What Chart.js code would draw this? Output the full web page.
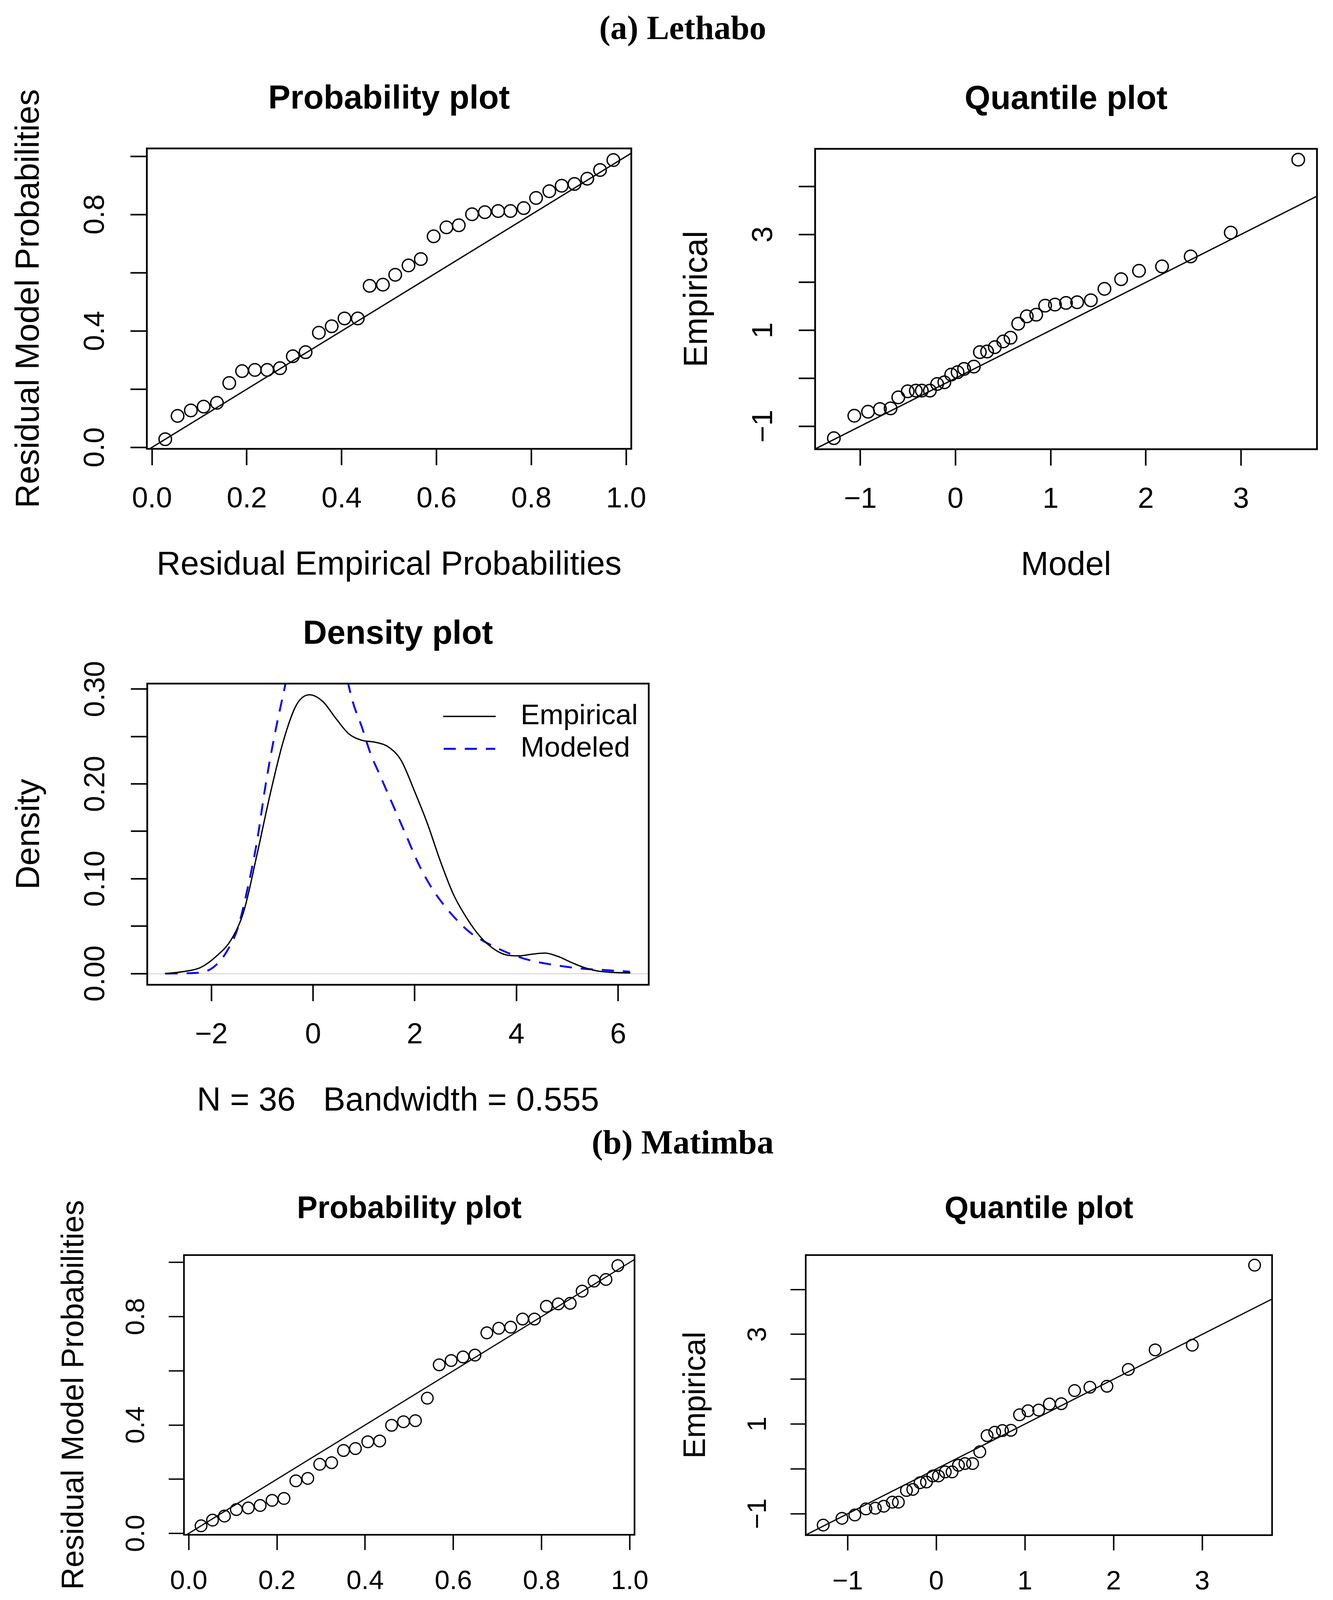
<!DOCTYPE html>
<html lang="en">

<head>
  <meta charset="UTF-8" />
  <title>Residual diagnostics | Lethabo and Matimba</title>
  <script src="https://cdn.jsdelivr.net/npm/chart.js@4"></script>
  <style>
    html, body { margin: 0; padding: 0; overflow: hidden; background: #fff; }
    body { position: relative; width: 3413px; height: 5551px; }
    canvas { position: absolute; }
    .cabecalho {
      position: absolute; left: 748px; width: 2000px; text-align: center;
      font: bold 86px "Liberation Serif", "Times New Roman", serif; line-height: 86px; color: #000;
    }
  </style>
</head>

<body>
  <div class="cabecalho" style="top: 28px;">(a) Lethabo</div>
  <canvas id="probA"></canvas>
  <canvas id="quantA"></canvas>
  <canvas id="densA"></canvas>

  <div class="cabecalho" style="top: 2881px;">(b) Matimba</div>
  <canvas id="probB"></canvas>
  <canvas id="quantB"></canvas>
  <canvas id="densB"></canvas>
</body>

</html>

<script>
  // ---------- dados ----------

  // (a) Lethabo - probability plot
  const lethaboProbEmp = [0.028, 0.054, 0.082, 0.109, 0.137, 0.163, 0.190, 0.217, 0.243, 0.270, 0.297, 0.324,
    0.352, 0.379, 0.406, 0.434, 0.459, 0.487, 0.513, 0.541, 0.567, 0.594, 0.621, 0.647,
    0.675, 0.702, 0.730, 0.756, 0.784, 0.810, 0.838, 0.864, 0.891, 0.918, 0.945, 0.973];
  const lethaboProbMod = [0.028, 0.108, 0.127, 0.140, 0.153, 0.221, 0.262, 0.266, 0.266, 0.272, 0.313, 0.327,
    0.394, 0.416, 0.443, 0.443, 0.555, 0.559, 0.593, 0.625, 0.647, 0.725, 0.756, 0.763,
    0.801, 0.808, 0.812, 0.812, 0.822, 0.857, 0.880, 0.899, 0.905, 0.923, 0.953, 0.987];

  // (a) Lethabo - quantile plot
  const lethaboQuantMod = [-1.278, -1.063, -0.919, -0.794, -0.682, -0.601, -0.502, -0.417, -0.354, -0.269, -0.193, -0.117,
    -0.045, 0.022, 0.090, 0.193, 0.256, 0.332, 0.413, 0.502, 0.578, 0.659, 0.749, 0.848,
    0.942, 1.045, 1.161, 1.278, 1.422, 1.565, 1.740, 1.928, 2.170, 2.471, 2.892, 3.601];
  const lethaboQuantEmp = [-1.250, -0.782, -0.698, -0.642, -0.628, -0.398, -0.272, -0.258, -0.258, -0.258, -0.119, -0.084,
    0.077, 0.126, 0.195, 0.244, 0.545, 0.558, 0.649, 0.768, 0.845, 1.138, 1.291, 1.326,
    1.515, 1.536, 1.571, 1.585, 1.627, 1.864, 2.066, 2.241, 2.332, 2.541, 3.037, 4.559];

  // (a) Lethabo - density plot
  const lethaboDensEmpX = [-2.90, -2.56, -2.21, -1.87, -1.61, -1.36, -1.10, -0.84, -0.58, -0.33, -0.07, 0.19,
    0.45, 0.70, 0.96, 1.22, 1.48, 1.73, 1.99, 2.25, 2.50, 2.76, 3.02, 3.28,
    3.53, 3.79, 4.05, 4.31, 4.56, 4.82, 5.08, 5.33, 5.59, 5.85, 6.23];
  const lethaboDensEmpY = [0.0000, 0.0020, 0.0064, 0.0198, 0.0357, 0.0660, 0.1260, 0.1900, 0.2460, 0.2830, 0.2940, 0.2870,
    0.2690, 0.2530, 0.2460, 0.2440, 0.2390, 0.2250, 0.1930, 0.1580, 0.1190, 0.0835, 0.0587, 0.0393,
    0.0269, 0.0198, 0.0187, 0.0205, 0.0216, 0.0180, 0.0117, 0.0064, 0.0028, 0.0014, 0.0007];
  const lethaboDensModX = [-2.90, -2.30, -2.04, -1.87, -1.70, -1.48, -1.27, -1.10, -0.93, -0.75, -0.58, -0.40, -0.20,
    0.00, 0.20, 0.40, 0.60, 0.79, 0.96, 1.13, 1.30, 1.56, 1.82, 2.08, 2.33, 2.59,
    2.85, 3.10, 3.36, 3.62, 3.96, 4.31, 4.65, 4.99, 5.33, 5.68, 6.23];
  const lethaboDensModY = [0.0000, 0.0007, 0.0039, 0.0110, 0.0230, 0.0480, 0.0940, 0.1400, 0.2000, 0.2530, 0.2960, 0.3400, 0.3700,
    0.3820, 0.3780, 0.3580, 0.3250, 0.2850, 0.2600, 0.2320, 0.2110, 0.1790, 0.1470, 0.1150, 0.0906, 0.0711,
    0.0552, 0.0428, 0.0340, 0.0269, 0.0191, 0.0134, 0.0099, 0.0071, 0.0050, 0.0039, 0.0020];

  // (b) Matimba - probability plot
  const matimbaProbEmp = [0.028, 0.054, 0.081, 0.108, 0.135, 0.162, 0.189, 0.216, 0.243, 0.270, 0.297, 0.324,
    0.351, 0.378, 0.406, 0.433, 0.460, 0.487, 0.514, 0.541, 0.568, 0.595, 0.622, 0.649,
    0.676, 0.703, 0.730, 0.757, 0.784, 0.811, 0.838, 0.865, 0.892, 0.919, 0.946, 0.973];
  const matimbaProbMod = [0.028, 0.049, 0.064, 0.088, 0.094, 0.103, 0.122, 0.129, 0.194, 0.203, 0.255, 0.261,
    0.306, 0.313, 0.338, 0.341, 0.399, 0.412, 0.416, 0.499, 0.622, 0.638, 0.651, 0.658,
    0.740, 0.757, 0.761, 0.791, 0.791, 0.838, 0.847, 0.849, 0.894, 0.931, 0.937, 0.988];

  // (b) Matimba - quantile plot
  const matimbaQuantMod = [-1.276, -1.064, -0.919, -0.794, -0.688, -0.592, -0.496, -0.428, -0.337, -0.265, -0.183, -0.111,
    -0.039, 0.024, 0.101, 0.178, 0.250, 0.323, 0.409, 0.491, 0.573, 0.659, 0.746, 0.842,
    0.939, 1.035, 1.155, 1.276, 1.410, 1.560, 1.733, 1.925, 2.166, 2.469, 2.888, 3.591];
  const matimbaQuantEmp = [-1.252, -1.102, -1.027, -0.892, -0.877, -0.832, -0.742, -0.742, -0.480, -0.457, -0.307, -0.292,
    -0.157, -0.157, -0.067, -0.067, 0.082, 0.120, 0.120, 0.382, 0.742, 0.817, 0.855, 0.862,
    1.207, 1.297, 1.312, 1.447, 1.454, 1.747, 1.822, 1.844, 2.219, 2.654, 2.759, 4.543];

  // (b) Matimba - density plot
  const matimbaDensEmpX = [-2.99, -2.66, -2.40, -2.14, -1.87, -1.61, -1.35, -1.08, -0.82, -0.55, -0.33, -0.11,
    0.15, 0.41, 0.68, 0.94, 1.20, 1.47, 1.73, 2.00, 2.26, 2.52, 2.79, 3.05,
    3.31, 3.58, 3.84, 4.11, 4.37, 4.63, 4.90, 5.16, 5.42, 5.69, 6.26];
  const matimbaDensEmpY = [0.0000, 0.0018, 0.0065, 0.0185, 0.0456, 0.0872, 0.1520, 0.2140, 0.2700, 0.2950, 0.3020, 0.2970,
    0.2770, 0.2520, 0.2340, 0.2250, 0.2175, 0.2030, 0.1780, 0.1490, 0.1160, 0.0870, 0.0637, 0.0456,
    0.0275, 0.0177, 0.0156, 0.0166, 0.0192, 0.0192, 0.0156, 0.0101, 0.0058, 0.0025, 0.0011];
  const matimbaDensModX = [-2.99, -2.31, -2.05, -1.87, -1.70, -1.52, -1.35, -1.17, -0.99, -0.82, -0.64, -0.45, -0.25,
    -0.05, 0.15, 0.35, 0.52, 0.62, 0.77, 0.94, 1.12, 1.29, 1.47, 1.64, 1.82, 2.00,
    2.17, 2.44, 2.70, 3.05, 3.40, 3.75, 4.11, 4.55, 4.98, 5.42, 5.86, 6.26];
  const matimbaDensModY = [0.0000, 0.0004, 0.0033, 0.0094, 0.0220, 0.0470, 0.0870, 0.1450, 0.2070, 0.2570, 0.2935, 0.3250, 0.3480,
    0.3580, 0.3560, 0.3430, 0.3250, 0.3120, 0.2900, 0.2610, 0.2320, 0.2067, 0.1810, 0.1600, 0.1340, 0.1126,
    0.0945, 0.0764, 0.0600, 0.0420, 0.0311, 0.0228, 0.0156, 0.0105, 0.0076, 0.0051, 0.0040, 0.0029];

  // linha de referencia y = x (abline 0,1)
  const diagonal = [-2, 5];

  // ticks e rotulos
  const probTicks = [0, 0.2, 0.4, 0.6, 0.8, 1.0];
  const probRotulosX = ["0.0", "0.2", "0.4", "0.6", "0.8", "1.0"];
  const probRotulosY = ["0.0", "", "0.4", "", "0.8", ""];
  const quantTicksX = [-1, 0, 1, 2, 3];
  const quantRotulosX = ["\u22121", "0", "1", "2", "3"];
  const quantTicksY = [-1, 0, 1, 2, 3, 4];
  const quantRotulosY = ["\u22121", "", "1", "", "3", ""];
  const densTicksX = [-2, 0, 2, 4, 6];
  const densRotulosX = ["\u22122", "0", "2", "4", "6"];
  const densTicksY = [0, 0.05, 0.10, 0.15, 0.20, 0.25, 0.30];
  const densRotulosY = ["0.00", "", "0.10", "", "0.20", "", "0.30"];

  // ---------- desenho ----------

  const FONTE = '"Liberation Sans", Arial, sans-serif';
  Chart.defaults.font.family = FONTE;
  Chart.defaults.color = "#000";
  Chart.defaults.animation = false;

  const medidor = document.createElement("canvas").getContext("2d");
  function larguraTexto(txt, px) {
    medidor.font = px + "px " + FONTE;
    return medidor.measureText(txt).width;
  }

  function pares(xs, ys) {
    return xs.map((x, i) => ({ x: x, y: ys[i] }));
  }

  // moldura em volta da area do grafico, como o box() do R
  const caixaR = {
    id: "caixaR",
    afterDatasetsDraw(chart, args, opts) {
      const a = chart.chartArea;
      const ctx = chart.ctx;
      ctx.save();
      ctx.strokeStyle = "#000";
      ctx.lineWidth = opts.largura;
      ctx.strokeRect(a.left, a.top, a.right - a.left, a.bottom - a.top);
      ctx.restore();
    },
  };

  // legenda "topright" sem moldura
  const legendaR = {
    id: "legendaR",
    afterDraw(chart, args, o) {
      const a = chart.chartArea;
      const ctx = chart.ctx;
      ctx.save();
      ctx.font = o.fonte + "px " + FONTE;
      ctx.textBaseline = "middle";
      ctx.fillStyle = "#000";
      chart.data.datasets.forEach((d, i) => {
        const y = a.top + o.linhas[i];
        ctx.strokeStyle = d.borderColor;
        ctx.lineWidth = d.borderWidth;
        ctx.lineCap = d.borderDash ? "butt" : "round";
        ctx.setLineDash(d.borderDash || []);
        ctx.beginPath();
        ctx.moveTo(a.right + o.x1, y);
        ctx.lineTo(a.right + o.x2, y);
        ctx.stroke();
        ctx.setLineDash([]);
        ctx.fillText(d.label, a.right + o.tx, y);
      });
      ctx.restore();
    },
  };

  function montar(p) {
    const s = p.s;
    const [bl, bt, br, bb] = p.box;
    const esq = Math.round(bl - 360 * s);
    const topo = Math.round(bt - 200 * s);
    const dir = Math.round(p.folga * s);
    const base = Math.round(350 * s);

    const cv = document.getElementById(p.id);
    cv.width = br - esq + dir;
    cv.height = bb - topo + base;
    cv.style.left = esq + "px";
    cv.style.top = topo + "px";

    const tl = 42 * s;
    const fTick = 74 * s;
    const fRotulo = 85 * s;
    const maisLargo = Math.max(...p.yRot.map((t) => larguraTexto(t, fTick)));
    const padY = 130.5 * s - tl - maisLargo / 2;

    const grade = {
      drawOnChartArea: false,
      drawTicks: true,
      tickLength: tl,
      tickWidth: 4 * s,
      tickColor: "#000",
      color: "#000",
    };

    const config = {
      type: p.tipo,
      data: { datasets: p.datasets },
      plugins: p.legenda ? [caixaR, legendaR] : [caixaR],
      options: {
        responsive: false,
        devicePixelRatio: 1,
        events: [],
        layout: { padding: { left: 0, top: 0, right: dir, bottom: 0 } },
        scales: {
          x: {
            type: "linear",
            position: "bottom",
            min: p.xr[0],
            max: p.xr[1],
            afterBuildTicks: (sc) => { sc.ticks = p.xTicks.map((v) => ({ value: v })); },
            afterFit: (sc) => { sc.height = base; },
            border: { display: false },
            grid: grade,
            ticks: {
              autoSkip: false,
              maxRotation: 0,
              padding: 50.4 * s,
              font: { size: fTick, lineHeight: 1 },
              callback: (v, i) => p.xRot[i],
            },
            title: {
              display: true,
              text: p.xTitulo,
              font: { size: fRotulo, lineHeight: 1 },
              padding: { top: 0, bottom: 9 * s },
            },
          },
          y: {
            type: "linear",
            position: "left",
            min: p.yr[0],
            max: p.yr[1],
            afterBuildTicks: (sc) => { sc.ticks = p.yTicks.map((v) => ({ value: v })); },
            afterFit: (sc) => { sc.width = bl - esq; },
            border: { display: false },
            grid: p.linhaZero
              ? Object.assign({}, grade, {
                drawOnChartArea: true,
                lineWidth: 1.6 * s,
                color: (c) => (c.tick && c.tick.value === 0 ? "#BEBEBE" : "rgba(0,0,0,0)"),
              })
              : grade,
            ticks: {
              autoSkip: false,
              minRotation: 90,
              maxRotation: 90,
              crossAlign: "center",
              padding: padY,
              font: { size: fTick, lineHeight: 1 },
              callback: (v, i) => p.yRot[i],
            },
            title: {
              display: true,
              text: p.yTitulo,
              font: { size: fRotulo, lineHeight: 1 },
              padding: { top: 17 * s, bottom: 0 },
            },
          },
        },
        plugins: {
          legend: { display: false },
          tooltip: { enabled: false },
          title: {
            display: true,
            text: p.titulo,
            fullSize: false,
            color: "#000",
            font: { size: fRotulo, weight: "bold", lineHeight: 1 },
            padding: { top: 32 * s, bottom: bt - topo - 32 * s - fRotulo },
          },
          caixaR: { largura: 4.5 * s },
          legendaR: {
            fonte: 73 * s,
            x1: -525 * s,
            x2: -393 * s,
            tx: -328 * s,
            linhas: [84 * s, 167 * s],
          },
        },
      },
    };

    return new Chart(cv.getContext("2d"), config);
  }

  function pontos(xs, ys, s) {
    return {
      type: "scatter",
      data: pares(xs, ys),
      pointStyle: "circle",
      pointRadius: 16 * s,
      pointBorderWidth: 3.5 * s,
      pointBorderColor: "#000",
      pointBackgroundColor: "rgba(0,0,0,0)",
      showLine: false,
    };
  }

  function reta(s) {
    return {
      type: "line",
      data: pares(diagonal, diagonal),
      borderColor: "#000",
      borderWidth: 3.4 * s,
      pointRadius: 0,
      clip: 0,
    };
  }

  function curvas(empX, empY, modX, modY, s) {
    return [
      {
        label: "Empirical",
        data: pares(empX, empY),
        borderColor: "#000",
        borderWidth: 3.4 * s,
        borderCapStyle: "round",
        pointRadius: 0,
        cubicInterpolationMode: "monotone",
        clip: 0,
      },
      {
        label: "Modeled",
        data: pares(modX, modY),
        borderColor: "#0000FF",
        borderWidth: 4.8 * s,
        borderDash: [31 * s, 23 * s],
        pointRadius: 0,
        cubicInterpolationMode: "monotone",
        clip: 0,
      },
    ];
  }

  function painel(id, box, s, tipo) {
    const base = { id: id, box: box, s: s, folga: 45 };
    if (tipo === "prob") {
      return Object.assign(base, {
        tipo: "scatter",
        xr: [-0.0108, 1.0108], yr: [-0.005, 1.027],
        xTicks: probTicks, xRot: probRotulosX, yTicks: probTicks, yRot: probRotulosY,
        titulo: "Probability plot",
        xTitulo: "Residual Empirical Probabilities",
        yTitulo: "Residual Model Probabilities",
      });
    }
    if (tipo === "quant") {
      return Object.assign(base, {
        tipo: "scatter", folga: 30,
        xTicks: quantTicksX, xRot: quantRotulosX, yTicks: quantTicksY, yRot: quantRotulosY,
        titulo: "Quantile plot",
        xTitulo: "Model",
        yTitulo: "Empirical",
      });
    }
    return Object.assign(base, {
      tipo: "line", folga: 30, legenda: true, linhaZero: true,
      xTicks: densTicksX, xRot: densRotulosX, yTicks: densTicksY, yRot: densRotulosY,
      titulo: "Density plot",
      yTitulo: "Density",
    });
  }

  // (a) Lethabo
  montar(Object.assign(painel("probA", [376, 380, 1661, 1149], 1, "prob"), {
    datasets: [pontos(lethaboProbEmp, lethaboProbMod, 1), reta(1)],
  }));
  montar(Object.assign(painel("quantA", [2087, 381, 3372, 1150], 1, "quant"), {
    xr: [-1.475, 3.798], yr: [-1.48, 4.785],
    datasets: [pontos(lethaboQuantMod, lethaboQuantEmp, 1), reta(1)],
  }));
  montar(Object.assign(painel("densA", [377, 1750, 1661, 2521], 1, "dens"), {
    xr: [-3.26, 6.60], yr: [-0.0118, 0.3058],
    xTitulo: "N = 36   Bandwidth = 0.555",
    datasets: curvas(lethaboDensEmpX, lethaboDensEmpY, lethaboDensModX, lethaboDensModY, 1),
  }));

  // (b) Matimba
  const sB = 0.93;
  montar(Object.assign(painel("probB", [471, 3213, 1666, 3929], sB, "prob"), {
    datasets: [pontos(matimbaProbEmp, matimbaProbMod, sB), reta(sB)],
  }));
  montar(Object.assign(painel("quantB", [2063, 3213, 3257, 3930], sB, "quant"), {
    xr: [-1.473, 3.788], yr: [-1.477, 4.768],
    datasets: [pontos(matimbaQuantMod, matimbaQuantEmp, sB), reta(sB)],
  }));
  montar(Object.assign(painel("densB", [471, 4486, 1666, 5204], sB, "dens"), {
    xr: [-3.34, 6.637], yr: [-0.0116, 0.314],
    xTitulo: "N = 36   Bandwidth = 0.5734",
    datasets: curvas(matimbaDensEmpX, matimbaDensEmpY, matimbaDensModX, matimbaDensModY, sB),
  }));
</script>
